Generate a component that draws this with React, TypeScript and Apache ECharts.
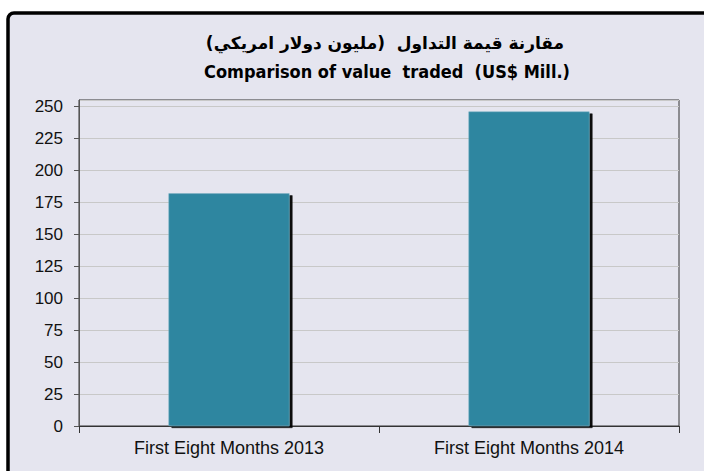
import React, { useEffect, useRef } from "react";
import * as echarts from "echarts";

const categories = ["First Eight Months 2013", "First Eight Months 2014"];
const valueTraded = [182, 246];
const titleArabic = "مقارنة قيمة التداول  (مليون دولار امريكي)";
const titleEnglish = "Comparison of value  traded  (US$ Mill.)";

export default function App() {
  const ref = useRef<HTMLDivElement>(null);
  useEffect(() => {
    const chart = echarts.init(ref.current!, null, { renderer: "svg" });
    chart.setOption({
      animation: false,
      backgroundColor: "#ffffff",
      graphic: [
        {
          type: "rect",
          z: -10,
          shape: { x: 8, y: 13, width: 720, height: 480, r: 6 },
          style: { fill: "#e5e5ef", stroke: "#000000", lineWidth: 3.5 },
        },
      ],
      title: [
        {
          text: titleArabic,
          left: 380,
          top: 29,
          textAlign: "center",
          textStyle: {
            fontFamily: "'DejaVu Sans', 'Noto Sans', sans-serif",
            fontWeight: "bold",
            fontSize: 17,
            color: "#000",
          },
        },
        {
          text: titleEnglish,
          left: 382,
          top: 57,
          textAlign: "center",
          textStyle: {
            fontFamily: "'DejaVu Sans Condensed', 'Liberation Sans Narrow', sans-serif",
            fontWeight: "bold",
            fontSize: 18,
            color: "#000",
          },
        },
      ],
      grid: {
        left: 79,
        top: 100,
        right: 25,
        bottom: 45,
        show: true,
        borderColor: "#333333",
        borderWidth: 1,
        backgroundColor: "transparent",
      },
      xAxis: {
        type: "category",
        data: categories,
        axisLine: { lineStyle: { color: "#333333", width: 1 } },
        axisTick: { show: true, length: 7, lineStyle: { color: "#333333" } },
        axisLabel: {
          margin: 13,
          color: "#111",
          fontSize: 18,
          fontFamily: "'Liberation Sans', Arial, sans-serif",
        },
      },
      yAxis: {
        type: "value",
        min: 0,
        max: 255,
        interval: 25,
        axisLine: { show: true, lineStyle: { color: "#555555", width: 1 } },
        axisTick: { show: true, length: 5, lineStyle: { color: "#555555" } },
        axisLabel: {
          margin: 16,
          showMaxLabel: false,
          color: "#111",
          fontSize: 17,
          fontFamily: "'Liberation Sans', Arial, sans-serif",
        },
        splitLine: { show: true, lineStyle: { color: "#c8c8c8", width: 1 } },
      },
      series: [
        {
          type: "bar",
          data: valueTraded,
          barWidth: 121,
          itemStyle: {
            color: "#2f86a0",
            borderColor: "#7fb3c4",
            borderWidth: 0.5,
            shadowColor: "rgba(0,0,0,0.95)",
            shadowBlur: 0,
            shadowOffsetX: 3,
            shadowOffsetY: 2,
          },
        },
      ],
    });
    return () => chart.dispose();
  }, []);
  return (
    <div style={{ position: "absolute", left: 0, top: 0, width: 704, height: 471 }}>
      <div ref={ref} style={{ width: 704, height: 471 }} />
    </div>
  );
}
